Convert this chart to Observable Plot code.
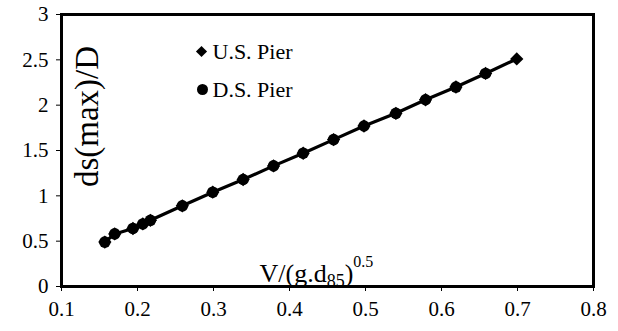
<!DOCTYPE html>
<html><head><meta charset="utf-8">
<script src="https://cdn.jsdelivr.net/npm/d3@7"></script>
<script src="https://cdn.jsdelivr.net/npm/@observablehq/plot@0.6"></script>
<style>body{margin:0;background:#fff;}</style>
</head><body><div id="chart"></div>
<script>
// V/(g.d85)^0.5 values
const velocityRatio = [0.157, 0.170, 0.194, 0.207, 0.217, 0.259, 0.299, 0.339, 0.379, 0.418, 0.458, 0.498, 0.540, 0.579, 0.619, 0.658, 0.699];
// U.S. Pier ds(max)/D
const usScour = [0.49, 0.58, 0.64, 0.69, 0.73, 0.89, 1.04, 1.18, 1.33, 1.47, 1.62, 1.77, 1.91, 2.06, 2.20, 2.35, 2.51];
// D.S. Pier ds(max)/D
const dsVelocity = [0.157, 0.170, 0.194, 0.207, 0.217, 0.259, 0.299, 0.339, 0.379, 0.418, 0.458, 0.498, 0.540, 0.579, 0.619, 0.658];
const dsScour = [0.49, 0.58, 0.64, 0.69, 0.73, 0.89, 1.04, 1.18, 1.33, 1.47, 1.62, 1.77, 1.91, 2.06, 2.20, 2.35];
const xTicks = [0.1, 0.2, 0.3, 0.4, 0.5, 0.6, 0.7, 0.8];
const yTicks = [0, 0.5, 1, 1.5, 2, 2.5, 3];
const legendLabels = ["U.S. Pier", "D.S. Pier"];
const yTitle = "ds(max)/D";
const xTitle = "V/(g.d85)0.5";

const us = velocityRatio.map((x, i) => ({x, y: usScour[i]}));
const ds = dsVelocity.map((x, i) => ({x, y: dsScour[i]}));

const serif = "Liberation Serif";
const plot = Plot.plot({
  width: 618, height: 331,
  marginLeft: 61, marginRight: 25, marginTop: 14, marginBottom: 45,
  style: {fontFamily: serif, fontSize: "21px", background: "#fff", color: "#000", overflow: "visible"},
  x: {domain: [0.1, 0.8]},
  y: {domain: [0, 3]},
  marks: [
    Plot.axisX({ticks: xTicks, tickSize: 5, tickPadding: 10, label: null, tickFormat: d => String(d), fontSize: 21, fontFamily: serif}),
    Plot.axisY({ticks: yTicks, tickSize: 5, tickPadding: 8, label: null, tickFormat: d => String(d), fontSize: 21, fontFamily: serif}),
    Plot.frame({stroke: "#000", strokeWidth: 3}),
    Plot.line(us, {x: "x", y: "y", stroke: "#000", strokeWidth: 3.2}),
    Plot.dot(us, {x: "x", y: "y", symbol: "diamond2", fill: "#000", r: 6}),
    Plot.dot(ds, {x: "x", y: "y", symbol: "circle", fill: "#000", r: 5.8}),
    // legend
    Plot.dot([legendLabels[0]], {frameAnchor: "top-left", dx: 140, dy: 37, symbol: "diamond2", fill: "#000", r: 5}),
    Plot.dot([legendLabels[1]], {frameAnchor: "top-left", dx: 141, dy: 75, symbol: "circle", fill: "#000", r: 5.5}),
    Plot.text([legendLabels[0]], {frameAnchor: "top-left", dx: 151, dy: 37, text: d => d, textAnchor: "start", lineAnchor: "middle", fontSize: 22, fontFamily: serif}),
    Plot.text([legendLabels[1]], {frameAnchor: "top-left", dx: 151, dy: 75, text: d => d, textAnchor: "start", lineAnchor: "middle", fontSize: 22, fontFamily: serif}),
    // axis titles
    Plot.text([yTitle], {frameAnchor: "left", dx: 26, dy: -34, rotate: -90, text: d => d, textAnchor: "middle", lineAnchor: "middle", fontSize: 33, fontFamily: serif}),
    Plot.text([xTitle], {frameAnchor: "bottom-left", dx: 198, dy: -5, text: d => d, textAnchor: "start", lineAnchor: "bottom", fontSize: 26, fontFamily: serif})
  ]
});
document.getElementById("chart").appendChild(plot);

// X title with subscript and superscript
d3.select(plot).selectAll("text").filter(function() { return this.textContent === xTitle; }).each(function() {
  const t = d3.select(this);
  t.text(null);
  t.append("tspan").text("V/(g.d");
  t.append("tspan").attr("font-size", 18).attr("dy", 5).text("85");
  t.append("tspan").attr("dy", -5).text(")");
  t.append("tspan").attr("font-size", 16).attr("dy", -15).text("0.5");
});
</script>
</body></html>
